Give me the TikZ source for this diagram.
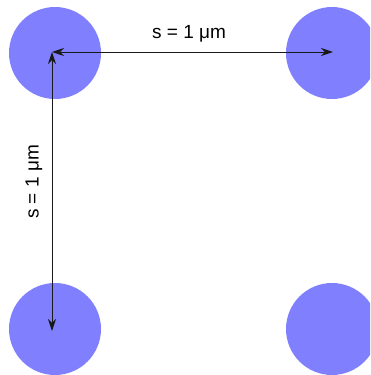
\documentclass[tikz,border=0pt]{standalone}
\usepackage{fontspec}
\setmainfont{Liberation Sans}
\usetikzlibrary{arrows.meta}
\definecolor{dot}{RGB}{128,128,255}
\begin{document}
\begin{tikzpicture}[x=1pt,y=-1pt,
  dotstyle/.style={circle,fill=dot,draw=none,minimum size=92pt,inner sep=0pt},
  dim/.style={draw=black!90,line width=1pt,{Stealth[length=12pt,width=8pt,inset=4pt]}-{Stealth[length=12pt,width=8pt,inset=4pt]}},
  lbl/.style={font=\fontsize{19}{21}\selectfont,inner sep=0pt}]
\path[use as bounding box] (0,0) rectangle (370,375);
\clip (0,0) rectangle (370,375);
\node[dotstyle] (tl) at (55,53) {};
\node[dotstyle] (tr) at (332,53) {};
\node[dotstyle] (bl) at (55,329) {};
\node[dotstyle] (br) at (332,329) {};
\coordinate (o) at (52,52);
\coordinate (h) at (333,52);
\coordinate (v) at (52,331);
\draw[dim] (o) -- (h);
\draw[dim] (o) -- (v);
\node[lbl] (ht) at (189,34) {s = 1 μm};
\node[lbl,rotate=90] (vt) at (34,182) {s = 1 μm};
\end{tikzpicture}
\end{document}
